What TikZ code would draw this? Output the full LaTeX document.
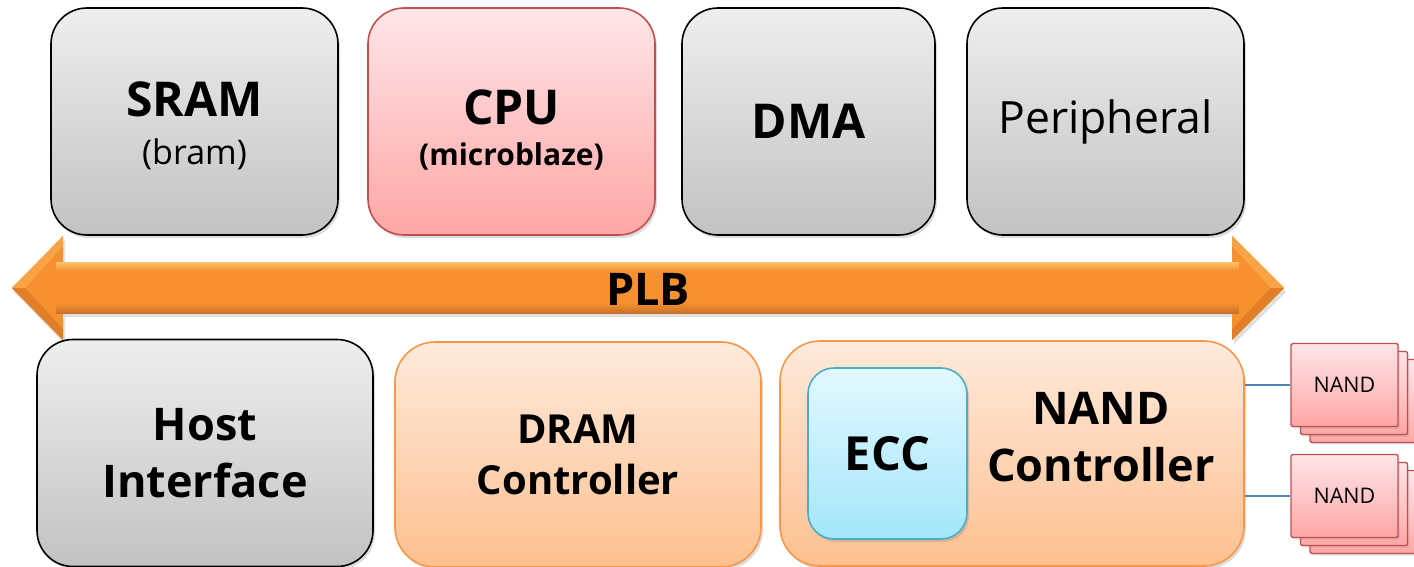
\documentclass[tikz,border=0pt]{standalone}
\usepackage{fontspec}
\setmainfont{Open Sans}
\usetikzlibrary{shadows}

\definecolor{greyT}{HTML}{EEEEEE}
\definecolor{greyB}{HTML}{C2C2C2}
\definecolor{redT}{HTML}{FFE6E8}
\definecolor{redB}{HTML}{FFA6A6}
\definecolor{redE}{HTML}{C0504D}
\definecolor{orT}{HTML}{FEEADC}
\definecolor{orB}{HTML}{FDC08F}
\definecolor{orE}{HTML}{F79646}
\definecolor{blT}{HTML}{E2F8FF}
\definecolor{blB}{HTML}{A3E6FA}
\definecolor{blE}{HTML}{4BACC6}
\definecolor{linkC}{HTML}{4F81BD}
\definecolor{arrHi}{HTML}{FBC46A}
\definecolor{arrM}{HTML}{F7902E}
\definecolor{arrLo}{HTML}{C8722A}
\definecolor{bevL}{HTML}{F9A444}
\definecolor{bevD}{HTML}{E07F28}

\tikzset{
  box/.style={rounded corners=36pt, line width=1.6pt, inner sep=0pt, align=center,
    drop shadow={opacity=0.28, shadow xshift=2pt, shadow yshift=-3pt}},
  greybox/.style={box, draw=black, top color=greyT, bottom color=greyB},
  cpubox/.style={box, draw=redE, top color=redT, bottom color=redB},
  orbox/.style={box, draw=orE, top color=orT, bottom color=orB, rounded corners=40pt},
  eccbox/.style={box, draw=blE, top color=blT, bottom color=blB, rounded corners=26pt},
  chip/.style={rectangle, rounded corners=1.5pt, line width=1.4pt, draw=redE,
    top color=redT, bottom color=redB, minimum width=107pt, minimum height=83pt,
    inner sep=0pt, font=\fontsize{21.5}{25}\selectfont,
    drop shadow={opacity=0.22, shadow xshift=1.5pt, shadow yshift=-2pt}},
  link/.style={draw=linkC, line width=2pt},
  big/.style={font=\fontsize{48}{54}\selectfont\bfseries},
}

\begin{document}
\begin{tikzpicture}[x=1pt, y=-1pt]
\useasboundingbox (0,0) rectangle (1414,567);

% top row of bus masters and slaves
\node[greybox, big, minimum width=287pt, minimum height=227pt] (sram) at (194.5,121.5)
  {\rule{0pt}{44pt}SRAM\\[-6pt]{\fontsize{34}{40}\selectfont\mdseries (bram)}};
\node[cpubox, big, minimum width=287pt, minimum height=227pt] (cpu) at (511.5,121.5)
  {\rule{0pt}{52pt}CPU\\[-13pt]{\fontsize{30}{36}\selectfont\bfseries (microblaze)}};
\node[greybox, big, minimum width=253pt, minimum height=227pt] (dma) at (808.5,121.5) {DMA};
\node[greybox, minimum width=277pt, minimum height=227pt,
  font=\fontsize{44.5}{50}\selectfont] (per) at (1105.5,121.5) {Peripheral};

% PLB bus arrow
\path[drop shadow={opacity=0.25, shadow xshift=2pt, shadow yshift=-4pt}, fill=arrM]
  (12,288) -- (63,236) -- (63,262) -- (1232,262) -- (1232,236) -- (1284,288)
  -- (1232,340) -- (1232,313) -- (63,313) -- (63,340) -- cycle;
\fill[bevL] (12,288) -- (63,236) -- (63,246) -- (25,288) -- cycle;
\fill[bevD] (12,288) -- (25,288) -- (63,329) -- (63,340) -- cycle;
\fill[bevL] (1284,288) -- (1232,236) -- (1232,246) -- (1271,288) -- cycle;
\fill[bevD] (1284,288) -- (1271,288) -- (1232,329) -- (1232,340) -- cycle;
\shade[top color=arrHi, bottom color=arrM] (56,262) rectangle (1239,271);
\shade[top color=arrM, bottom color=arrLo] (56,303) rectangle (1239,313);
\node[font=\fontsize{45}{50}\selectfont\bfseries] (plb) at (648,289) {PLB};

% bottom row of controllers
\node[greybox, minimum width=336pt, minimum height=227pt,
  font=\fontsize{45}{50}\selectfont\bfseries] (host) at (205,453) {Host\\[7pt]Interface};
\node[orbox, minimum width=366pt, minimum height=225pt,
  font=\fontsize{40}{46}\selectfont\bfseries] (dram) at (578,454.5) {DRAM\\[5pt]Controller};
\node[orbox, minimum width=464pt, minimum height=225pt] (nandc) at (1012,453.5) {};
\node[eccbox, minimum width=159pt, minimum height=171pt,
  font=\fontsize{47}{52}\selectfont\bfseries] (ecc) at (887.5,453.5) {ECC};
\node[align=center, font=\fontsize{45}{50}\selectfont\bfseries] (nandl) at (1101,437)
  {NAND\\[7pt]Controller};

% NAND flash packages (stacked)
\node[chip] (n1c) at (1363.5,401) {};
\node[chip] (n1b) at (1354,393) {};
\node[chip] (n1) at (1344.5,385) {NAND};
\node[chip] (n2c) at (1363.5,512) {};
\node[chip] (n2b) at (1354,504) {};
\node[chip] (n2) at (1344.5,496) {NAND};

\draw[link] (nandc.east |- n1.west) -- (n1.west);
\draw[link] (nandc.east |- n2.west) -- (n2.west);
\end{tikzpicture}
\end{document}
